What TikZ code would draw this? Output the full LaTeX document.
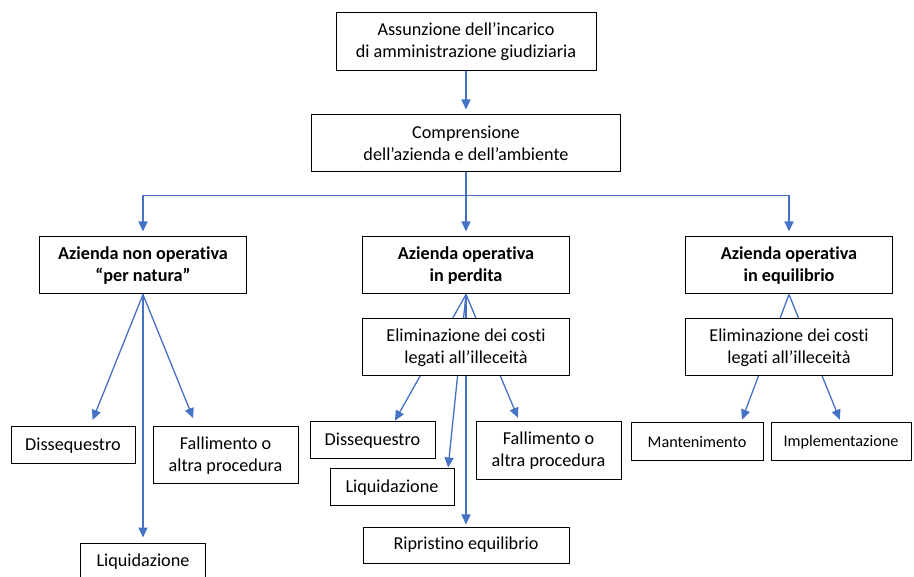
\documentclass[tikz,border=0pt]{standalone}
\usepackage{fontspec}
\setmainfont[Ligatures=NoCommon]{Carlito}
\usetikzlibrary{arrows.meta,backgrounds}
\definecolor{linkblue}{HTML}{4472C4}

\tikzset{
    box/.style={draw,line width=1pt,fill=white,align=center,inner sep=0pt,
        font=\fontsize{18.2}{22}\selectfont},
    smallbox/.style={box,font=\fontsize{16.2}{20}\selectfont},
    link/.style={draw=linkblue,line width=1.3pt},
    arr/.style={link,-{Triangle[length=10pt,width=9pt]}}
}

\begin{document}
\begin{tikzpicture}[x=1pt,y=-1pt]
    \useasboundingbox (0,0) rectangle (914,577);

    \node [box,minimum width=260,minimum height=58] (top) at (466,42)
        {Assunzione dell’incarico\\di amministrazione giudiziaria};
    \node [box,minimum width=309,minimum height=57] (comp) at (466,143.5)
        {Comprensione\\dell’azienda e dell’ambiente};

    \begin{scope}[minimum width=207,minimum height=57]
    \node [box] (nonop) at (143,265.5) {\textbf{Azienda non operativa}\\\textbf{“per natura”}};
    \node [box] (perd)  at (466,265.5) {\textbf{Azienda operativa}\\\textbf{in perdita}};
    \node [box] (equi)  at (789,265.5) {\textbf{Azienda operativa}\\\textbf{in equilibrio}};
    \node [box] (elimp) at (466,347.5) {Eliminazione dei costi\\legati all’illeceità};
    \node [box] (elime) at (789,347.5) {Eliminazione dei costi\\legati all’illeceità};
    \end{scope}

    % azienda non operativa
    \node [box,minimum width=124,minimum height=37] (ldis) at (73,445.5) {Dissequestro};
    \node [box,minimum width=145,minimum height=57] (lfal) at (225.5,455.5) {Fallimento o\\altra procedura};
    \node [box,minimum width=125,minimum height=37] (lliq) at (143,561.5) {Liquidazione};

    % azienda in perdita
    \node [box,minimum width=125,minimum height=37] (mdis) at (372.5,440.5) {Dissequestro};
    \node [box,minimum width=124,minimum height=37] (mliq) at (392,487.5) {Liquidazione};
    \node [box,minimum width=145,minimum height=58] (mfal) at (548.5,451) {Fallimento o\\altra procedura};
    \node [box,minimum width=206,minimum height=36] (mrip) at (466,545) {Ripristino equilibrio};

    % azienda in equilibrio
    \node [smallbox,minimum width=132,minimum height=38] (rman) at (697,442) {Mantenimento};
    \node [smallbox,minimum width=140,minimum height=38] (rimp) at (841,442) {Implementazione};

    \begin{scope}[on background layer]
    \draw [arr,shorten >=5pt] (top) -- (comp);
    \draw [arr,shorten >=5pt] (comp.south) -- ++(0,23) -| (nonop.north);
    \draw [arr,shorten >=5pt] (comp.south) -- ++(0,23) -| (equi.north);
    \draw [arr,shorten >=5pt] (comp.south) -- (perd.north);

    \draw [arr,shorten >=7pt] (nonop.south) -- ([xshift=17pt]ldis.north);
    \draw [arr,shorten >=9pt] (nonop.south) -- ([xshift=-29pt]lfal.north);
    \draw [arr,shorten >=5pt] (nonop.south) -- (lliq.north);

    \draw [arr,shorten >=1pt] (perd.south) -- ([xshift=22pt]mdis.north);
    \draw [arr,shorten >=1pt] (perd.south) -- ([xshift=56pt]mliq.north);
    \draw [arr,shorten >=4pt] (perd.south) -- ([xshift=-29pt]mfal.north);
    \draw [arr,shorten >=2pt] (perd.south) -- (mrip.north);

    \draw [arr,shorten >=3pt] (equi.south) -- ([xshift=44pt]rman.north);
    \draw [arr,shorten >=3pt] (equi.south) -- (rimp.north);
    \end{scope}
\end{tikzpicture}
\end{document}
